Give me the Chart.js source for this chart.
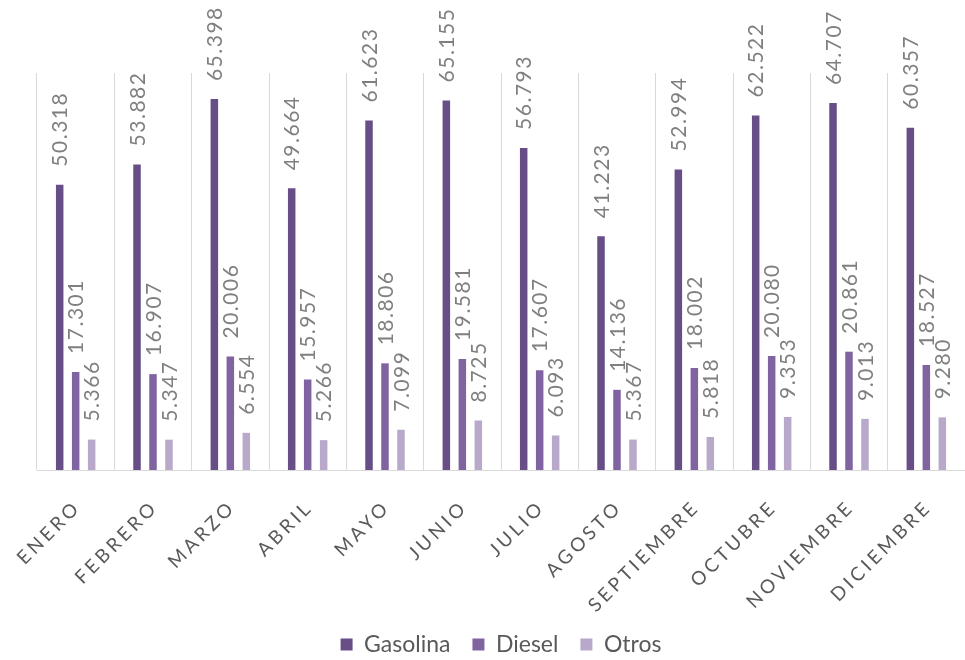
<!DOCTYPE html>
<html>
<head>
<meta charset="utf-8">
<script src="https://cdn.jsdelivr.net/npm/chart.js@4.4.1/dist/chart.umd.min.js"></script>
<style>
    html, body { margin: 0; padding: 0; background: #fff; }
    #wrap { width: 965px; height: 660px; }
</style>
</head>
<body>
<div id="wrap"><canvas id="ventasChart" width="965" height="660"></canvas></div>
<script>
// Datos (miles)
const meses = ['ENERO', 'FEBRERO', 'MARZO', 'ABRIL', 'MAYO', 'JUNIO', 'JULIO',
    'AGOSTO', 'SEPTIEMBRE', 'OCTUBRE', 'NOVIEMBRE', 'DICIEMBRE'];
const gasolina = [50.318, 53.882, 65.398, 49.664, 61.623, 65.155, 56.793, 41.223, 52.994, 62.522, 64.707, 60.357];
const diesel = [17.301, 16.907, 20.006, 15.957, 18.806, 19.581, 17.607, 14.136, 18.002, 20.080, 20.861, 18.527];
const otros = [5.366, 5.347, 6.554, 5.266, 7.099, 8.725, 6.093, 5.367, 5.818, 9.353, 9.013, 9.280];

const fuente = 'Lato, "Open Sans", sans-serif';

// Etiquetas de valor giradas encima de cada barra
const etiquetasValor = {
    id: 'etiquetasValor',
    afterDatasetsDraw(chart) {
        const ctx = chart.ctx;
        chart.data.datasets.forEach((ds, i) => {
            const meta = chart.getDatasetMeta(i);
            meta.data.forEach((bar, j) => {
                ctx.save();
                ctx.letterSpacing = '1.5px';
                ctx.font = '21px ' + fuente;
                ctx.fillStyle = '#7f7f7f';
                ctx.translate(bar.x, bar.y - 18);
                ctx.rotate(-Math.PI / 2);
                ctx.textAlign = 'left';
                ctx.textBaseline = 'middle';
                ctx.fillText(ds.data[j].toFixed(3), 0, 1);
                ctx.restore();
            });
        });
    }
};

// Meses en diagonal con espaciado entre letras
const etiquetasMes = {
    id: 'etiquetasMes',
    afterDraw(chart) {
        const ctx = chart.ctx;
        const x = chart.scales.x;
        const base = chart.chartArea.bottom;
        meses.forEach((m, i) => {
            ctx.save();
            ctx.letterSpacing = '3.5px';
            ctx.font = '19px ' + fuente;
            ctx.fillStyle = '#595959';
            ctx.translate(x.getPixelForValue(i) + 2, base + 34);
            ctx.rotate(-Math.PI / 4);
            ctx.textAlign = 'right';
            ctx.textBaseline = 'middle';
            ctx.fillText(m, 0, 0);
            ctx.restore();
        });
    }
};

const ctx = document.getElementById('ventasChart').getContext('2d');
new Chart(ctx, {
    type: 'bar',
    data: {
        labels: meses,
        datasets: [
            { label: 'Gasolina', data: gasolina, backgroundColor: '#674e87' },
            { label: 'Diesel', data: diesel, backgroundColor: '#8064a2' },
            { label: 'Otros', data: otros, backgroundColor: '#b8a9cb' }
        ]
    },
    options: {
        responsive: false,
        animation: false,
        devicePixelRatio: 1,
        categoryPercentage: 0.62,
        barPercentage: 0.47,
        layout: {
            padding: { top: 73, left: 37, right: 0, bottom: -6 }
        },
        scales: {
            x: {
                ticks: { display: false },
                grid: {
                    color: '#d9d9d9',
                    drawTicks: false
                },
                border: { color: '#d9d9d9' },
                afterFit: scale => { scale.height = 141; }
            },
            y: {
                display: false,
                min: 0,
                max: 70
            }
        },
        plugins: {
            legend: {
                position: 'bottom',
                labels: {
                    font: { family: fuente, size: 23 },
                    color: '#595959',
                    boxWidth: 12,
                    boxHeight: 12,
                    padding: 22
                }
            },
            tooltip: { enabled: false }
        }
    },
    plugins: [etiquetasValor, etiquetasMes]
});
</script>
</body>
</html>
